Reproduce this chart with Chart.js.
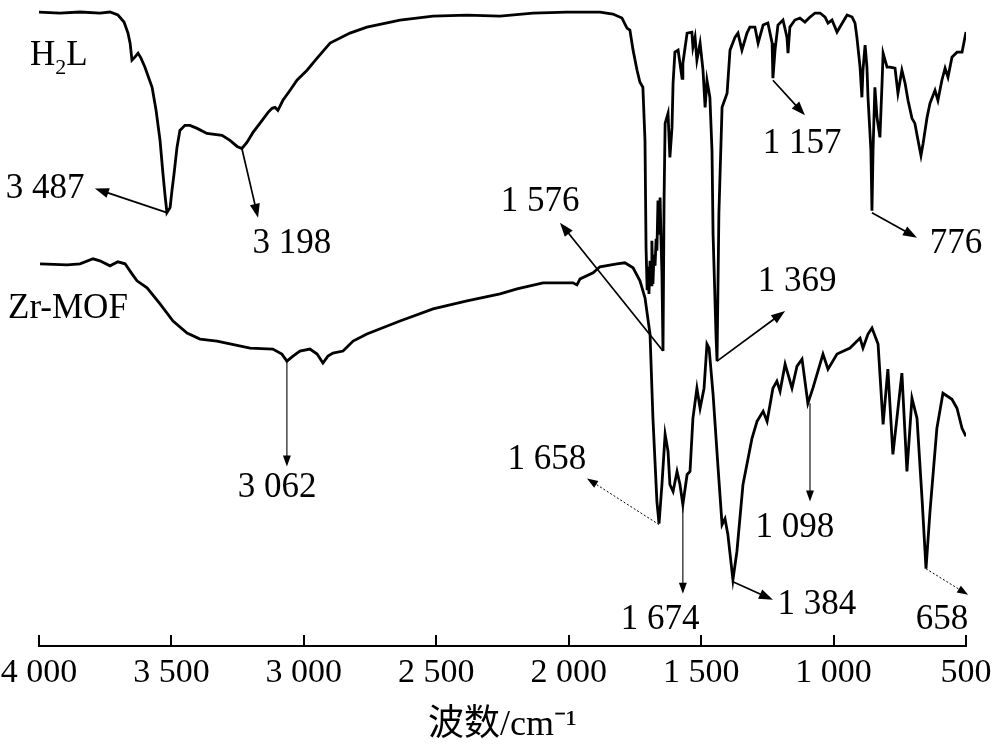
<!DOCTYPE html>
<html>
<head>
<meta charset="utf-8">
<script src="https://cdn.jsdelivr.net/npm/chart.js@4.4.1/dist/chart.umd.min.js"></script>
<style>
  html, body { margin: 0; padding: 0; background: #fff; }
  #wrap { width: 1000px; height: 753px; }
</style>
</head>
<body>
<div id="wrap"><canvas id="ir-chart"></canvas></div>
<script>
// x axis ticks (wavenumber, cm-1)
const tickValues = [4000, 3500, 3000, 2500, 2000, 1500, 1000, 500];

// H2L spectrum
const h2lWave = [4000,3921,3845,3770,3732,3702,3679,3664,3656,3649,
  3638,3626,3615,3600,3573,3558,3543,3532,3524,3517,
  3505,3498,3490,3479,3468,3449,3430,3403,3366,3309,
  3279,3252,3234,3215,3192,3166,3135,3120,3109,3098,
  3079,3052,3026,2988,2950,2901,2826,2762,2637,2512,
  2384,2259,2135,2007,1946,1882,1833,1799,1780,1769,
  1757,1742,1731,1720,1712,1708,1704,1701,1697,1693,1689,1686,1682,1678,
  1674,1670,1667,1663,1659,1655,1651,1648,1644,1640,1636,1625,1618,
  1610,1606,1599,1587,1572,1569,1553,1535,1531,1523,
  1516,1504,1493,1485,1478,1467,1459,1455,1444,1440,
  1433,1421,1402,1391,1372,1361,1346,1327,1316,1297,
  1285,1266,1248,1232,1229,1221,1210,1191,1176,1172,
  1165,1146,1127,1108,1089,1070,1051,1032,1021,1006,
  987,976,949,930,919,912,900,893,889,881,
  874,870,859,855,851,844,836,825,817,813,
  798,787,768,757,742,730,719,704,693,681,
  670,662,647,636,617,606,591,579,568,553,
  534,515,500];
const h2lT = [63.2,63.1,63.2,63.1,63.2,62.9,62.2,61.1,60.1,58.4,
  58.7,59.1,58.6,57.7,55.7,53.4,50.4,47.1,44.9,43.2,
  43.7,45.4,47.1,49.7,51.4,51.9,51.9,51.6,51.1,50.9,
  50.4,49.8,49.6,50.2,51.2,52.1,53.2,53.6,53.7,53.4,
  54.4,55.4,56.4,57.4,58.6,60.1,61.1,61.7,62.4,62.8,
  62.9,62.8,63.1,63.2,63.2,63.2,63.0,62.6,61.6,61.4,
  59.4,57.4,56.2,55.7,50.4,39.7,35.6,37.8,35.1,38.4,36.0,40.4,36.1,39.0,
  37.9,40.6,39.4,44.4,41.0,44.7,40.0,37.1,29.4,44.4,52.1,53.1,48.7,
  51.7,56.1,59.2,59.4,56.6,58.1,61.1,61.2,59.7,60.7,
  58.4,60.1,57.4,53.7,56.4,54.7,49.4,41.1,31.1,28.4,
  43.1,53.7,55.1,59.4,60.7,61.1,59.4,61.1,61.7,61.7,
  60.1,61.9,62.1,60.1,56.6,59.4,61.9,62.4,60.7,59.1,
  61.7,62.4,62.6,62.2,62.7,63.1,63.1,62.7,62.1,62.4,
  61.2,61.7,62.9,62.7,62.1,60.7,57.7,54.7,57.4,59.9,
  57.7,54.7,49.4,43.4,49.4,55.7,52.7,50.7,56.1,59.1,
  57.7,57.7,57.6,55.1,57.4,56.1,54.4,52.6,52.1,50.4,
  48.9,50.1,52.7,54.1,55.4,54.4,56.4,57.6,56.7,58.7,
  59.2,59.2,61.2];

// Zr-MOF spectrum
const mofWave = [3996,3894,3845,3796,3770,3732,3702,3675,3649,3630,
  3592,3543,3494,3441,3392,3328,3203,3117,3083,3064,
  3041,3015,2977,2950,2928,2909,2890,2852,2814,2762,
  2637,2512,2384,2259,2195,2097,1984,1969,1957,1908,
  1882,1818,1788,1757,1731,1712,1693,1682,1667,1659,
  1648,1636,1625,1618,1606,1591,1580,1569,1553,1542,
  1531,1516,1504,1489,1478,1470,1455,1436,1421,1410,
  1399,1380,1365,1342,1308,1289,1266,1251,1229,1214,
  1202,1183,1157,1138,1119,1097,1078,1059,1040,1021,
  987,938,900,889,870,855,832,813,795,776,
  742,723,704,685,666,651,636,610,587,553,
  534,515,500];
const mofT = [38.1,38.0,38.1,38.6,38.4,37.9,38.3,38.1,37.1,36.4,
  35.7,34.1,32.4,31.2,30.6,30.4,29.7,29.6,29.1,28.4,
  28.9,29.4,29.6,29.1,28.2,28.9,29.2,29.4,30.4,31.1,
  32.4,33.6,34.4,35.1,35.6,36.2,36.2,36.0,36.6,37.2,
  37.8,38.1,38.2,37.7,36.4,34.7,31.1,22.7,14.4,12.2,
  16.1,21.1,19.4,16.1,15.4,17.4,16.1,14.1,17.1,17.4,
  22.7,25.7,23.7,25.7,30.1,29.7,25.1,17.7,12.1,12.7,
  11.1,6.6,9.4,16.1,20.7,22.4,23.4,22.4,25.7,26.4,
  25.4,28.1,25.7,27.9,28.6,24.2,25.7,27.4,29.1,27.6,
  29.1,29.7,30.7,29.7,31.1,31.7,30.1,22.1,27.6,19.1,
  27.2,17.4,24.7,22.7,14.7,7.7,13.4,21.7,25.2,24.6,
  23.7,21.7,20.9];

const seriesNames = ["H₂L", "Zr-MOF"];
const seriesNameAt = [[4034, 58.8], [4117, 33.6]];

// peak callouts: point on the curve, arrow end, label centre (wavenumber, T)
const peakLabels = ["3 487", "3 198", "1 576", "1 157", "776", "1 369",
  "3 062", "1 658", "1 674", "1 384", "1 098", "658"];
const peakFrom = [[3517, 43.2], [3234, 49.6], [1644, 29.4], [1229, 56.4], [855, 43.2], [1440, 28.4],
  [3064, 28.4], [1659, 12.1], [1569, 14.1], [1380, 6.4], [1089, 24.2], [651, 7.7]];
const peakTo = [[3789, 45.6], [3173, 42.7], [2033, 42.2], [1108, 52.9], [685, 40.7], [1183, 33.4],
  [3064, 17.9], [1931, 16.7], [1569, 5.2], [1229, 4.6], [1089, 14.4], [492, 5.1]];
const peakAt = [[3977, 45.6], [3045, 40.1], [2108, 44.3], [1119, 50.1], [538, 40.1], [1138, 36.3],
  [3101, 15.8], [2082, 18.6], [1655, 2.6], [1063, 4.1], [1146, 11.8], [591, 2.6]];

const serif = "'Liberation Serif', 'Times New Roman', serif";
const thinArrows = [6, 8, 10];
const dottedArrows = [7, 11];

function fmtWave(v) {
  if (v < 1000) return String(v);
  return Math.floor(v / 1000) + " " + String(v % 1000).padStart(3, "0");
}

function drawArrow(ctx, x0, y0, x1, y1, lw, head, dash) {
  const a = Math.atan2(y1 - y0, x1 - x0);
  const c = Math.cos(a), s = Math.sin(a);
  ctx.lineWidth = lw;
  ctx.setLineDash(dash);
  ctx.beginPath();
  ctx.moveTo(x0, y0);
  ctx.lineTo(x1 - c * head * 0.7, y1 - s * head * 0.7);
  ctx.stroke();
  ctx.setLineDash([]);
  const w = head * 0.36;
  ctx.beginPath();
  ctx.moveTo(x1, y1);
  ctx.lineTo(x1 - c * head + s * w, y1 - s * head - c * w);
  ctx.lineTo(x1 - c * head - s * w, y1 - s * head + c * w);
  ctx.closePath();
  ctx.fill();
}

const callouts = {
  id: "callouts",
  afterDraw(chart) {
    const { ctx, chartArea } = chart;
    const xs = chart.scales.x, ys = chart.scales.y;
    ctx.save();
    ctx.strokeStyle = "#000";
    ctx.fillStyle = "#000";

    // tick marks point into the plot
    ctx.lineWidth = 2;
    tickValues.forEach((v) => {
      const px = Math.round(xs.getPixelForValue(v));
      ctx.beginPath();
      ctx.moveTo(px, chartArea.bottom);
      ctx.lineTo(px, chartArea.bottom - 11);
      ctx.stroke();
    });

    // arrows and peak numbers
    peakLabels.forEach((txt, i) => {
      const x0 = xs.getPixelForValue(peakFrom[i][0]);
      const y0 = ys.getPixelForValue(peakFrom[i][1]);
      const x1 = xs.getPixelForValue(peakTo[i][0]);
      const y1 = ys.getPixelForValue(peakTo[i][1]);
      let lw = 1.7, head = 14, dash = [];
      if (thinArrows.includes(i)) { lw = 1.1; head = 11; }
      if (dottedArrows.includes(i)) { lw = 1; head = 11; dash = [2, 2]; }
      drawArrow(ctx, x0, y0, x1, y1, lw, head, dash);

      ctx.font = "35px " + serif;
      ctx.textAlign = "center";
      ctx.textBaseline = "middle";
      ctx.fillText(txt, xs.getPixelForValue(peakAt[i][0]), ys.getPixelForValue(peakAt[i][1]));
    });

    // curve names, subscript handled by hand
    ctx.textAlign = "left";
    seriesNames.forEach((name, i) => {
      let x = xs.getPixelForValue(seriesNameAt[i][0]);
      const y = ys.getPixelForValue(seriesNameAt[i][1]);
      name.split(/(₂)/).forEach((part) => {
        if (!part) return;
        if (part === "₂") {
          ctx.font = "22px " + serif;
          ctx.fillText("2", x, y + 12);
          x += ctx.measureText("2").width;
        } else {
          ctx.font = "35px " + serif;
          ctx.fillText(part, x, y);
          x += ctx.measureText(part).width;
        }
      });
    });
    ctx.restore();
  }
};

new Chart("ir-chart", {
  type: "line",
  data: {
    datasets: [
      {
        label: seriesNames[0],
        data: h2lWave.map((w, i) => ({ x: w, y: h2lT[i] })),
        borderColor: "#000",
        borderWidth: 2.8,
        pointRadius: 0,
        tension: 0,
      },
      {
        label: seriesNames[1],
        data: mofWave.map((w, i) => ({ x: w, y: mofT[i] })),
        borderColor: "#000",
        borderWidth: 2.8,
        pointRadius: 0,
        tension: 0,
      },
    ],
  },
  options: {
    responsive: true,
    maintainAspectRatio: false,
    animation: false,
    devicePixelRatio: 1,
    layout: { padding: { left: 39, right: 34, top: 4, bottom: 6 } },
    plugins: { legend: { display: false }, tooltip: { enabled: false } },
    scales: {
      x: {
        type: "linear",
        reverse: true,
        min: 500,
        max: 4000,
        afterBuildTicks: (scale) => {
          scale.ticks = tickValues.map((v) => ({ value: v }));
        },
        afterFit: (scale) => {
          // end labels may hang into the page margin
          scale.paddingLeft = 0;
          scale.paddingRight = 0;
        },
        grid: { display: false, drawTicks: false },
        border: { display: true, color: "#000", width: 2 },
        ticks: {
          autoSkip: false,
          maxRotation: 0,
          padding: 7,
          color: "#000",
          font: { family: serif, size: 34 },
          callback: (v) => fmtWave(v),
        },
        title: {
          display: true,
          text: "波数/cm⁻¹",
          color: "#000",
          font: { family: "'Liberation Serif', 'Noto Sans CJK SC', serif", size: 36 },
          padding: { top: 3, bottom: 0 },
        },
      },
      y: { display: false, min: 0, max: 64 },
    },
  },
  plugins: [callouts],
});
</script>
</body>
</html>
